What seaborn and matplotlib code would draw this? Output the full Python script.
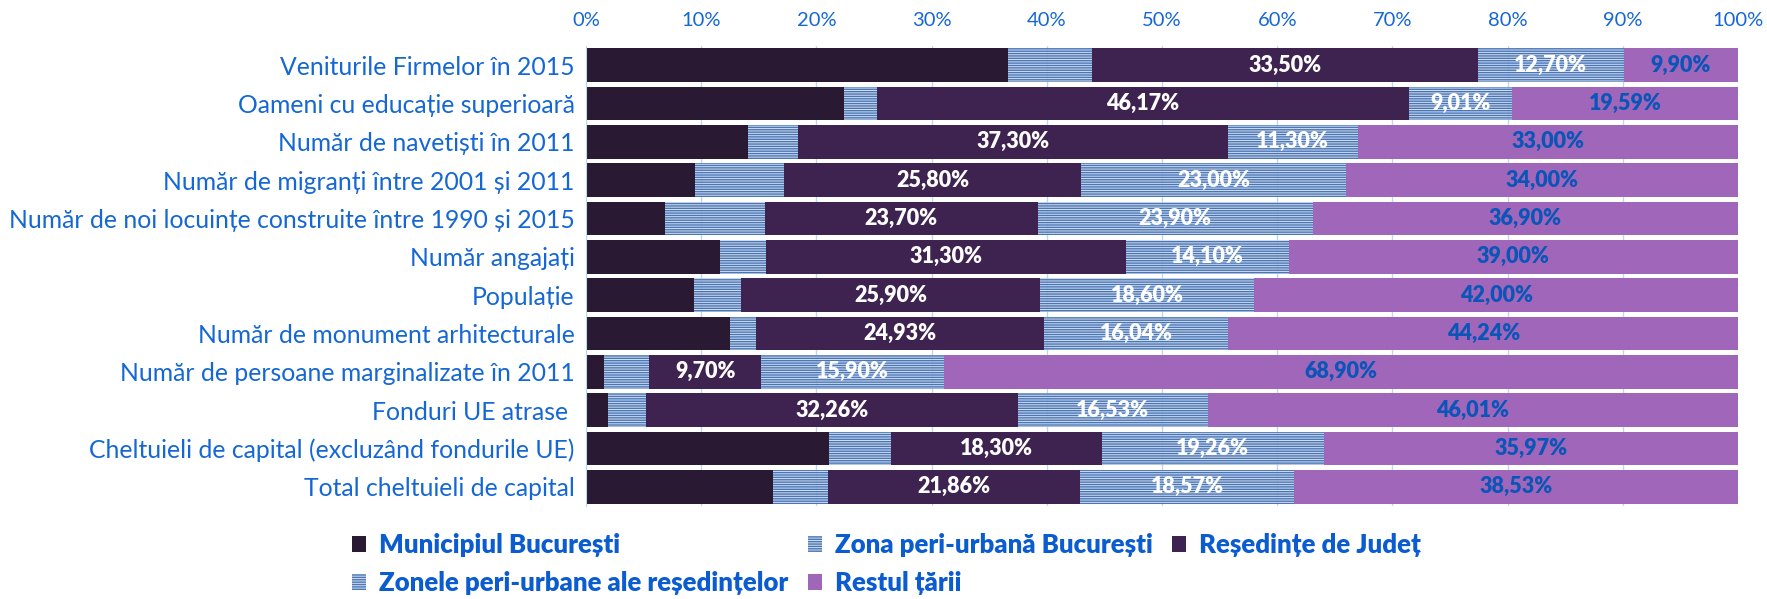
import matplotlib
matplotlib.use('Agg')
import matplotlib.pyplot as plt
import seaborn as sns
import pandas as pd
import numpy as np

# date (procente)
categories = ['Veniturile Firmelor în 2015',
              'Oameni cu educație superioară',
              'Număr de navetiști în 2011',
              'Număr de migranți între 2001 și 2011',
              'Număr de noi locuințe construite între 1990 și 2015',
              'Număr angajați',
              'Populație',
              'Număr de monument arhitecturale',
              'Număr de persoane marginalizate în 2011',
              'Fonduri UE atrase ',
              'Cheltuieli de capital (excluzând fondurile UE)',
              'Total cheltuieli de capital']
series_names = ['Municipiul București', 'Zona peri-urbană București',
                'Reședințe de Județ', 'Zonele peri-urbane ale reședințelor',
                'Restul țării']
municipiu = [36.6, 22.4, 14.1, 9.5, 6.9, 11.6, 9.4, 12.5, 1.6, 1.9, 21.1, 16.2]
zona_buc = [7.3, 2.83, 4.3, 7.7, 8.6, 4.0, 4.1, 2.29, 3.9, 3.3, 5.37, 4.84]
resedinte = [33.50, 46.17, 37.30, 25.80, 23.70, 31.30, 25.90, 24.93, 9.70, 32.26, 18.30, 21.86]
zone_res = [12.70, 9.01, 11.30, 23.00, 23.90, 14.10, 18.60, 16.04, 15.90, 16.53, 19.26, 18.57]
restul = [9.90, 19.59, 33.00, 34.00, 36.90, 39.00, 42.00, 44.24, 68.90, 46.01, 35.97, 38.53]
ticks = list(range(0, 101, 10))

values = [municipiu, zona_buc, resedinte, zone_res, restul]
rows = []
for name, vals in zip(series_names, values):
    for cat, v in zip(categories, vals):
        rows.append({'categorie': cat, 'serie': name, 'valoare': v})
df = pd.DataFrame(rows)

sns.set_style('white')
plt.rcParams['font.family'] = ['Lato', 'DejaVu Sans']
plt.rcParams['hatch.linewidth'] = 1.0

blue_txt = '#1467D4'
grid_col = '#BDD7EE'
styles = [
    dict(color='#2A1933', hatch=None, label_col=None),
    dict(color='#C9D7EE', hatch='-------', label_col=None),
    dict(color='#3E2250', hatch=None, label_col='white'),
    dict(color='#C9D7EE', hatch='-------', label_col='white'),
    dict(color='#A066BA', hatch=None, label_col='#0B55B8'),
]

fig = plt.figure(figsize=(17.67, 5.99), dpi=100)
ax = fig.add_axes([0.3316, 0.1554, 0.652, 0.768])

left = np.zeros(len(categories))
containers = []
for name, vals, st in zip(series_names, values, styles):
    sub = df[df['serie'] == name]
    kw = dict(edgecolor='#4A76B6', linewidth=0) if st['hatch'] else dict(linewidth=0)
    sns.barplot(data=sub, x='valoare', y='categorie', order=categories,
                color=st['color'], width=0.88, ax=ax, hatch=st['hatch'],
                saturation=1, **kw)
    cont = ax.containers[-1]
    # stivuire: fiecare serie porneste de la suma celor anterioare
    for p, l in zip(cont.patches, left):
        p.set_x(l)
        if st['hatch']:
            p.set_facecolor((0.79, 0.84, 0.93, 0.8))
    containers.append(cont)
    if st['label_col']:
        labs = [f"{v:.2f}%".replace('.', ',') for v in vals]
        ax.bar_label(cont, labels=labs, label_type='center', color=st['label_col'],
                     fontweight='heavy', fontsize=15.5)
    left = left + np.array(vals)

ax.set_xlim(0, 100)
ax.set_xticks(ticks)
ax.set_xticklabels([f"{t}%" for t in ticks])
ax.xaxis.tick_top()
ax.tick_params(axis='x', length=0, pad=12, labelsize=14.5, labelcolor=blue_txt)
ax.tick_params(axis='y', length=0, pad=8, labelsize=17.8, labelcolor=blue_txt)
ax.set_xlabel('')
ax.set_ylabel('')
ax.xaxis.grid(True, color=grid_col, linewidth=1)
ax.set_axisbelow(True)
for s in ['top', 'right', 'bottom']:
    ax.spines[s].set_visible(False)
ax.spines['left'].set_color(grid_col)

order = [0, 3, 1, 4, 2]
fig.legend([containers[i] for i in order], [series_names[i] for i in order],
           ncol=3, loc='center left', bbox_to_anchor=(0.192, 0.058),
           frameon=False, prop={'weight': 'heavy', 'size': 18.5},
           labelcolor='#0A5CD0', handlelength=0.55, handleheight=0.55,
           handletextpad=0.5, columnspacing=0.75, labelspacing=0.55,
           borderpad=0)

fig.savefig('out.png', dpi=100)
